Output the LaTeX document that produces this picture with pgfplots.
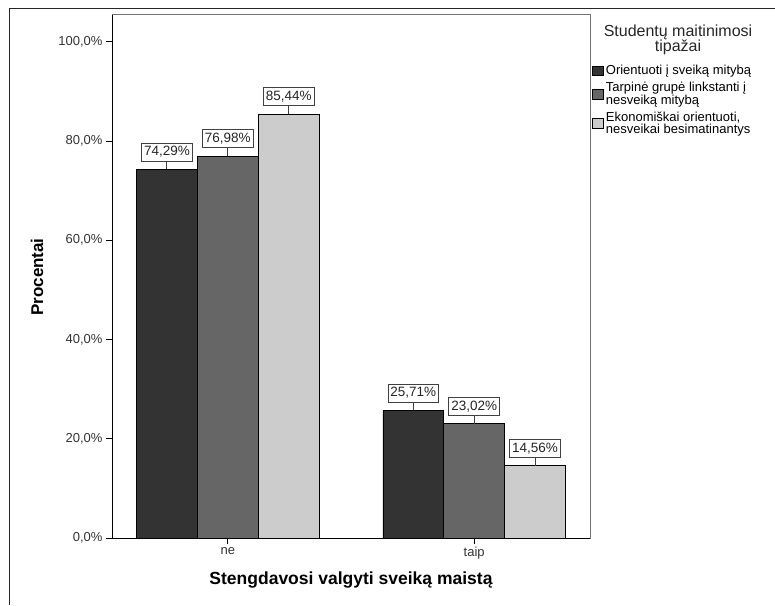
\documentclass[border=0pt]{standalone}
\usepackage{fontspec}
\setmainfont{Liberation Sans}
\usepackage{pgfplots}
\pgfplotsset{compat=1.18}
\definecolor{cA}{HTML}{333333}
\definecolor{cB}{HTML}{666666}
\definecolor{cC}{HTML}{CCCCCC}
\begin{document}
\begin{tikzpicture}
\useasboundingbox (0pt,0pt) rectangle (775pt,605pt);
\draw[line width=1pt, black!85] (9pt,0pt) -- (9pt,596pt) -- (775pt,596pt);
\begin{axis}[
  at={(112pt,67pt)}, anchor=south west,
  scale only axis, width=478pt, height=523pt,
  xmin=-0.47, xmax=1.47, ymin=0, ymax=105.4,
  ybar, bar width=0.247,
  /pgf/number format/assume math mode=true,
  xtick={0,1}, xticklabels={ne,taip},
  ytick={0,20,40,60,80,100},
  yticklabel={\pgfmathprintnumber[fixed,fixed zerofill,precision=1,use comma]{\tick}\%},
  tick align=outside, xtick pos=bottom, ytick pos=left,
  major tick length=6pt,
  tick style={black, line width=1pt},
  ticklabel style={font=\fontsize{13}{14}\selectfont, text=black!80},
  axis line style={black!55, line width=1pt},
  xlabel={Stengdavosi valgyti sveiką maistą},
  ylabel={Procentai},
  every axis x label/.style={at={(axis description cs:0.5,-0.0803)}, anchor=center, font=\bfseries\fontsize{17.5}{20}\selectfont},
  every axis y label/.style={at={(axis description cs:-0.157,0.499)}, rotate=90, anchor=center, font=\bfseries\fontsize{17}{20}\selectfont},
  nodes near coords={\pgfmathprintnumber[fixed,fixed zerofill,precision=2,use comma]{\pgfplotspointmeta}\%},
  every node near coord/.append style={draw=black!75, fill=white, line width=0.8pt, inner xsep=2.5pt, inner ysep=3.5pt, anchor=south, yshift=7.9pt, font=\fontsize{13.5}{14}\selectfont, text=black!85},
  legend style={at={(axis description cs:1.004,0.908)}, anchor=north west, draw=none, fill=none, font=\fontsize{13}{11.5}\selectfont, cells={align=left}, row sep=2pt, inner sep=0pt},
  legend cell align=left,
  legend image code/.code={\draw[#1] (0pt,-4.8pt) rectangle (11pt,4.8pt);},
  clip=false,
]
\addplot[fill=cA, draw=black, line width=0.8pt, bar shift=-0.247,
  error bars/.cd, y dir=plus, y fixed=1.6, error mark=none,
  error bar style={black!75, line width=1pt}]
  coordinates {(0,74.29) (1,25.71)};
\addlegendentry{Orientuoti į sveiką mitybą}
\addplot[fill=cB, draw=black, line width=0.8pt, bar shift=0,
  error bars/.cd, y dir=plus, y fixed=1.6, error mark=none,
  error bar style={black!75, line width=1pt}]
  coordinates {(0,76.98) (1,23.02)};
\addlegendentry{Tarpinė grupė linkstanti į\\nesveiką mitybą}
\addplot[fill=cC, draw=black, line width=0.8pt, bar shift=0.247,
  error bars/.cd, y dir=plus, y fixed=1.6, error mark=none,
  error bar style={black!75, line width=1pt}]
  coordinates {(0,85.44) (1,14.56)};
\addlegendentry{Ekonomiškai orientuoti,\\nesveikai besimatinantys}
\draw[black, line width=1pt] (rel axis cs:0,1) -- (rel axis cs:0,0) -- (rel axis cs:1,0);
\end{axis}
\node[align=center, font=\fontsize{16}{15}\selectfont, text=black!85] at (678pt,565.5pt) {Studentų maitinimosi\\tipažai};
\end{tikzpicture}
\end{document}
